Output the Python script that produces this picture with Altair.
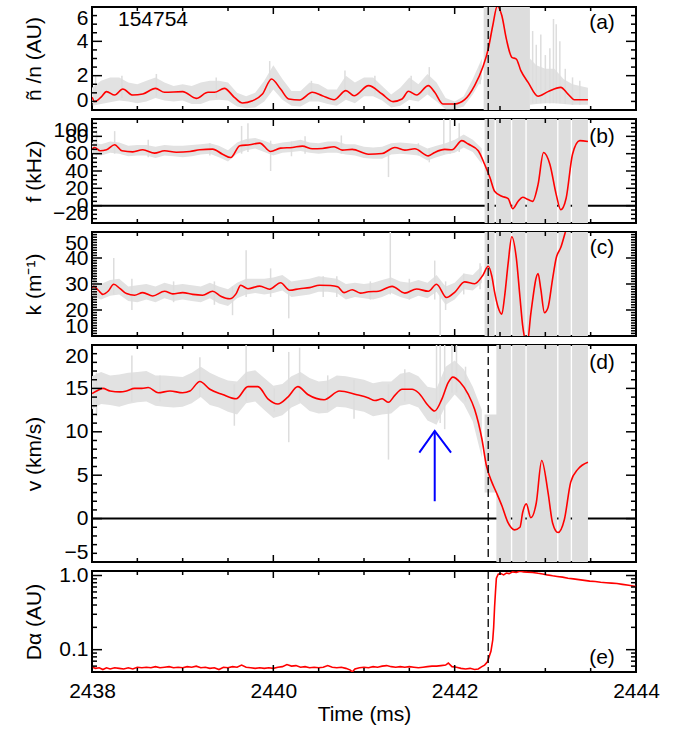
import altair as alt
import pandas as pd

FONT = "Liberation Sans, Arial, Helvetica, sans-serif"
FS = 21
W = 544
GRAY = "#DDDDDD"
BAND_GRAY = "#E2E2E2"
XDOM = [2438, 2444]
X_LABELS = [2438, 2440, 2442, 2444]
X_MAJOR = [2438, 2440, 2442, 2444]
X_MINOR = [2438.5, 2439, 2439.5, 2440.5, 2441, 2441.5, 2442.5, 2443, 2443.5]
T_LH = [2442.37]

# ---------------- panel (a): density fluctuation ----------------
RED_A_T = [2438.00, 2438.03, 2438.10, 2438.16, 2438.25, 2438.34, 2438.45, 2438.56, 2438.70, 2438.80,
           2439.00, 2439.15, 2439.28, 2439.35, 2439.46, 2439.57, 2439.66, 2439.77, 2439.88, 2439.98,
           2440.08, 2440.17, 2440.29, 2440.43, 2440.54, 2440.67, 2440.80, 2440.89, 2441.05, 2441.20,
           2441.32, 2441.42, 2441.49, 2441.58, 2441.71, 2441.78, 2441.87, 2442.00, 2442.11, 2442.22,
           2442.31, 2442.37, 2442.42, 2442.47, 2442.52, 2442.57, 2442.63, 2442.68, 2442.73, 2442.81,
           2442.92, 2443.03, 2443.17, 2443.25, 2443.32, 2443.47]
RED_A_V = [0.75, 0.49, 0.75, 1.07, 0.87, 1.22, 0.87, 0.93, 1.26, 1.03,
           1.07, 0.68, 1.03, 1.03, 1.26, 0.74, 0.41, 0.54, 0.93, 1.81,
           1.22, 0.64, 0.58, 1.03, 0.83, 0.60, 1.13, 0.83, 1.42, 0.93,
           0.49, 0.64, 1.09, 0.87, 1.42, 1.03, 0.35, 0.35, 0.60, 1.42,
           2.49, 3.55, 4.91, 6.05, 5.50, 4.14, 3.07, 2.97, 2.29, 1.61,
           0.80, 1.07, 1.32, 0.93, 0.60, 0.60]

BAND_T = [2438.0, 2438.1, 2438.2, 2438.3, 2438.4, 2438.5, 2438.6, 2438.7, 2438.8, 2438.9,
          2439.0, 2439.1, 2439.2, 2439.3, 2439.4, 2439.5, 2439.6, 2439.7, 2439.8, 2439.9,
          2440.0, 2440.1, 2440.2, 2440.3, 2440.4, 2440.5, 2440.6, 2440.7, 2440.8, 2440.9,
          2441.0, 2441.1, 2441.2, 2441.3, 2441.4, 2441.5, 2441.6, 2441.7, 2441.8, 2441.9,
          2442.0, 2442.1, 2442.2, 2442.3]
BAND_A_LO = [0.25, 0.35, 0.45, 0.55, 0.5, 0.4, 0.5, 0.7, 0.55, 0.5,
             0.55, 0.35, 0.35, 0.55, 0.6, 0.55, 0.2, 0.1, 0.15, 0.5,
             1.2, 0.6, 0.25, 0.2, 0.5, 0.5, 0.35, 0.25, 0.6, 0.4,
             0.8, 0.8, 0.55, 0.15, 0.25, 0.6, 0.5, 0.9, 0.5, 0.05,
             0.05, 0.2, 0.9, 1.8]
BAND_A_HI = [1.3, 1.7, 1.9, 1.9, 1.6, 1.5, 1.7, 1.9, 1.6, 1.4,
             1.5, 1.4, 1.6, 1.7, 1.7, 1.6, 1.0, 0.8, 1.0, 1.7,
             2.6, 1.8, 1.1, 1.1, 1.6, 1.5, 1.2, 1.2, 2.0, 1.6,
             1.9, 1.9, 1.4, 0.9, 1.3, 1.9, 1.5, 2.1, 1.6, 0.7,
             0.5, 0.8, 1.8, 3.0]
POST_A_T = [2442.83, 2442.90, 2443.00, 2443.10, 2443.20, 2443.30, 2443.47]
POST_A_LO = [0.30, 0.35, 0.40, 0.40, 0.35, 0.30, 0.30]
POST_A_HI = [3.0, 2.6, 2.4, 2.4, 1.8, 1.5, 1.3]
SPK_A_T = [2438.04, 2438.33, 2438.71, 2439.37, 2439.96, 2440.42, 2440.79, 2441.12, 2441.52, 2441.72,
           2442.28, 2442.86, 2442.90, 2442.95, 2443.00, 2443.05, 2443.09, 2443.12, 2443.16, 2443.22,
           2443.30, 2443.38]
SPK_A_LO = [0.4, 0.7, 0.8, 0.7, 1.0, 0.6, 0.7, 0.9, 0.7, 0.9,
            1.5, 0.4, 0.4, 0.4, 0.4, 0.4, 0.4, 0.4, 0.4, 0.35,
            0.3, 0.3]
SPK_A_HI = [2.0, 2.0, 2.1, 1.9, 2.85, 1.7, 2.3, 2.0, 2.0, 2.5,
            2.6, 4.6, 3.8, 4.4, 3.2, 3.6, 5.3, 5.0, 4.0, 2.4,
            1.9, 1.7]
CH_A_T = [2442.32, 2442.83]
CH_A_LO = [0.0, 0.0]
CH_A_HI = [6.0, 6.0]

# ---------------- panel (b): frequency ----------------
RED_B_T = [2438.00, 2438.03, 2438.09, 2438.16, 2438.25, 2438.33, 2438.45, 2438.56, 2438.69, 2438.80,
           2438.93, 2439.08, 2439.19, 2439.33, 2439.44, 2439.53, 2439.63, 2439.74, 2439.85, 2439.97,
           2440.08, 2440.21, 2440.32, 2440.43, 2440.54, 2440.67, 2440.76, 2440.87, 2441.05, 2441.20,
           2441.34, 2441.45, 2441.56, 2441.71, 2441.78, 2441.89, 2441.97, 2442.08, 2442.15, 2442.26,
           2442.33, 2442.39, 2442.44, 2442.52, 2442.59, 2442.64, 2442.70, 2442.75, 2442.81, 2442.86,
           2442.92, 2442.98, 2443.05, 2443.12, 2443.17, 2443.23, 2443.30, 2443.38, 2443.47]
RED_B_V = [65.2, 67.2, 63.3, 64.5, 70.3, 63.3, 62.1, 64.5, 60.6, 63.3,
           61.7, 62.5, 64.5, 65.2, 59.4, 55.5, 69.1, 70.3, 72.2, 62.5,
           66.4, 67.2, 68.7, 65.6, 66.0, 68.0, 64.1, 64.9, 59.4, 60.2,
           67.2, 64.1, 65.6, 57.5, 61.4, 64.9, 64.5, 75.0, 71.1, 63.3,
           47.8, 32.2, 16.7, 10.9, 8.2, -3.5, 5.0, 9.7, 7.0, 5.0,
           24.5, 61.4, 47.8, 12.8, -4.7, 8.9, 59.4, 75.0, 74.0]
BAND_B_LO = [60, 58, 61, 60, 57, 58, 58, 55, 58, 57,
             56, 57, 59, 60, 56, 51, 60, 64, 66, 62,
             58, 61, 62, 63, 61, 60, 61, 61, 59, 58,
             55, 54, 54, 59, 60, 59, 58, 52, 56, 59,
             61, 67, 62, 48]
BAND_B_HI = [73, 71, 74, 73, 69, 70, 70, 68, 70, 69,
             69, 70, 71, 72, 69, 64, 73, 77, 78, 75,
             71, 73, 74, 76, 73, 72, 74, 74, 71, 71,
             68, 67, 68, 72, 73, 72, 71, 66, 69, 72,
             76, 82, 76, 66]
SPK_B_T = [2438.05, 2438.25, 2438.62, 2439.30, 2439.65, 2439.72, 2439.97, 2440.20, 2440.35, 2440.75,
           2441.27, 2441.60, 2441.72, 2441.88, 2441.95, 2442.05]
SPK_B_LO = [58, 60, 56, 58, 60, 62, 40, 57, 60, 60, 33, 58, 50, 60, 60, 62]
SPK_B_HI = [87, 86, 76, 72, 92, 95, 75, 74, 80, 81, 66, 72, 66, 100, 100, 95]
CH_T = [2442.33, 2442.44, 2442.455, 2442.62, 2442.635, 2442.78, 2442.795, 2443.13, 2443.145, 2443.28, 2443.295, 2443.47]
CH_B_LO = [-20, 0, -20, 0, -20, 0, -20, 0, -20, 0, -20, -20]
CH_B_HI = [100, 0, 100, 0, 100, 0, 100, 0, 100, 0, 100, 100]

# ---------------- panel (c): wavenumber ----------------
RED_C_T = [2438.00, 2438.02, 2438.07, 2438.12, 2438.18, 2438.24, 2438.31, 2438.38, 2438.47, 2438.56,
           2438.67, 2438.80, 2438.89, 2439.00, 2439.11, 2439.22, 2439.33, 2439.42, 2439.52, 2439.59,
           2439.64, 2439.72, 2439.85, 2439.96, 2440.08, 2440.18, 2440.29, 2440.40, 2440.51, 2440.63,
           2440.71, 2440.78, 2440.87, 2440.96, 2441.05, 2441.16, 2441.31, 2441.45, 2441.58, 2441.71,
           2441.80, 2441.91, 2442.00, 2442.11, 2442.22, 2442.31, 2442.37, 2442.41, 2442.44, 2442.48,
           2442.52, 2442.55, 2442.59, 2442.63, 2442.68, 2442.72, 2442.75, 2442.80, 2442.84, 2442.92,
           2442.95, 2442.99, 2443.03, 2443.08, 2443.12, 2443.17, 2443.23, 2443.28]
RED_C_V = [28.5, 29.1, 27.6, 26.0, 27.3, 29.9, 28.2, 26.3, 25.7, 26.7,
           25.4, 27.2, 26.2, 26.7, 26.0, 25.7, 27.2, 25.3, 24.3, 26.3,
           29.5, 28.2, 29.2, 28.0, 30.5, 27.6, 28.2, 28.6, 29.5, 29.4,
           28.9, 26.7, 27.8, 26.5, 27.0, 27.2, 29.1, 26.5, 28.1, 27.2,
           29.9, 24.8, 26.8, 30.8, 30.1, 33.3, 36.8, 33.0, 27.0, 21.0,
           18.4, 25.0, 38.0, 48.2, 40.0, 25.0, 14.0, 7.0, 18.6, 34.0,
           28.0, 19.0, 21.0, 32.0, 40.0, 44.0, 51.0, 56.0]
BAND_C_LO = [25.5, 24.0, 25.5, 26.0, 23.5, 23.0, 24.0, 23.0, 24.5, 23.5,
             24.0, 23.5, 23.0, 24.5, 22.5, 21.5, 24.5, 26.0, 26.5, 26.0,
             26.5, 27.5, 25.0, 25.5, 26.0, 27.0, 27.0, 26.5, 24.0, 25.0,
             24.5, 24.0, 25.0, 26.5, 25.0, 24.0, 25.5, 24.5, 27.0, 22.0,
             24.0, 28.0, 27.5, 30.5]
BAND_C_HI = [32.0, 30.0, 31.5, 32.0, 29.0, 29.5, 30.0, 29.0, 30.5, 29.5,
             30.0, 29.5, 29.0, 30.5, 29.0, 28.0, 30.5, 32.0, 32.0, 32.0,
             32.5, 33.5, 31.0, 31.5, 32.0, 33.0, 32.5, 32.0, 30.0, 30.5,
             30.0, 30.5, 31.5, 32.5, 31.0, 30.5, 31.5, 30.5, 33.5, 29.0,
             30.5, 34.0, 33.5, 37.0]
SPK_C_T = [2438.03, 2438.24, 2438.44, 2438.90, 2439.35, 2439.55, 2439.70, 2439.97, 2440.17, 2440.55,
           2440.70, 2441.07, 2441.29, 2441.50, 2441.78, 2441.84, 2441.90, 2442.10, 2442.28]
SPK_C_LO = [26, 26, 20, 23, 22, 18, 25, 25, 16.8, 25, 25, 24, 26, 24, 24, 10, 20, 26, 28]
SPK_C_HI = [39, 40, 32, 31, 31, 29, 43, 36, 31, 33, 33, 31, 50, 32, 39, 31, 31, 34, 38]
CH_C_LO = [10, 10, 10, 10, 10, 10, 10, 10, 10, 10, 10, 10]
CH_C_HI = [50, 10, 50, 10, 50, 10, 50, 10, 50, 10, 50, 50]

# ---------------- panel (d): velocity ----------------
RED_D_T = [2438.00, 2438.05, 2438.12, 2438.20, 2438.31, 2438.38, 2438.47, 2438.55, 2438.62, 2438.73,
           2438.86, 2439.00, 2439.08, 2439.19, 2439.30, 2439.44, 2439.59, 2439.72, 2439.83, 2439.94,
           2440.05, 2440.16, 2440.27, 2440.38, 2440.56, 2440.73, 2440.91, 2441.05, 2441.12, 2441.20,
           2441.27, 2441.34, 2441.42, 2441.53, 2441.60, 2441.71, 2441.78, 2441.86, 2441.93, 2441.98,
           2442.06, 2442.15, 2442.22, 2442.30, 2442.35, 2442.41, 2442.46, 2442.52, 2442.59, 2442.66,
           2442.72, 2442.75, 2442.79, 2442.84, 2442.90, 2442.96, 2443.03, 2443.08, 2443.14, 2443.21,
           2443.28, 2443.36, 2443.47]
RED_D_V = [14.4, 14.7, 15.0, 14.7, 14.6, 14.7, 15.0, 15.0, 15.1, 14.5,
           14.7, 14.5, 14.7, 15.8, 14.9, 14.3, 13.8, 15.2, 15.2, 13.8,
           13.2, 14.0, 15.2, 14.3, 13.7, 14.7, 14.3, 13.9, 13.6, 13.8,
           13.4, 14.2, 14.9, 14.9, 14.5, 13.0, 12.4, 13.8, 15.7, 16.3,
           15.7, 14.3, 12.6, 9.2, 6.1, 4.2, 3.0, 1.5, -0.5, -1.3,
           -1.0, 0.7, 1.7, 0.1, 1.8, 6.7, 3.0, -0.5, -1.6, -0.1,
           4.2, 5.7, 6.5]
BAND_D_LO = [12.6, 13.2, 13.1, 12.9, 13.2, 13.4, 13.5, 13.0, 12.9, 12.8,
             12.9, 13.3, 14.0, 13.1, 12.8, 12.3, 12.0, 13.3, 13.5, 12.5,
             11.6, 11.9, 12.8, 13.3, 12.4, 12.1, 12.2, 12.9, 12.8, 12.5,
             12.3, 11.8, 12.0, 12.1, 13.0, 13.2, 12.8, 11.3, 10.8, 13.0,
             14.3, 13.2, 11.2, 7.0]
BAND_D_HI = [16.4, 16.9, 16.5, 16.6, 16.8, 16.9, 17.0, 16.5, 16.5, 16.4,
             16.3, 16.8, 17.5, 16.8, 16.3, 15.9, 15.8, 16.9, 17.1, 16.2,
             15.3, 15.5, 16.4, 16.9, 16.2, 15.8, 15.9, 16.5, 16.4, 16.2,
             16.0, 15.6, 15.8, 15.8, 16.7, 16.9, 16.4, 15.2, 15.0, 17.5,
             18.2, 17.2, 15.2, 12.5]
SPK_D_T = [2438.05, 2438.44, 2438.75, 2439.19, 2439.57, 2439.70, 2440.01, 2440.17, 2440.29, 2440.60,
           2440.89, 2441.27, 2441.45, 2441.80, 2441.84, 2441.89, 2441.97, 2442.02, 2442.12]
SPK_D_LO = [11.8, 13.5, 13.5, 14.0, 10.7, 13.5, 12.3, 8.8, 13.5, 12.5,
            11.5, 6.8, 13.5, 11.5, 11.0, 10.3, 14.5, 14.5, 13.5]
SPK_D_HI = [16.8, 18.8, 16.5, 18.6, 15.5, 20.0, 15.0, 19.2, 19.7, 16.5,
            16.0, 15.5, 17.2, 20.0, 20.0, 20.0, 20.0, 20.0, 17.5]
CH_D_T = [2442.33, 2442.46, 2442.62, 2442.635, 2442.78, 2442.795, 2443.13, 2443.145, 2443.28, 2443.295, 2443.47]
CH_D_LO = [3.0, -5, 0, -5, 0, -5, 0, -5, 0, -5, -5]
CH_D_HI = [12.0, 20, 0, 20, 0, 20, 0, 20, 0, 20, 20]
ARROW_SEG = [0, 0, 1, 1, 1]
ARROW_I = [0, 1, 0, 1, 2]
ARROW_T = [2441.78, 2441.78, 2441.61, 2441.78, 2441.96]
ARROW_V = [2.0, 10.1, 7.6, 10.1, 7.6]

# ---------------- panel (e): D-alpha ----------------
DA_T = [2438.00, 2438.04, 2438.08, 2438.12, 2438.16, 2438.20, 2438.25, 2438.30, 2438.35, 2438.40,
        2438.45, 2438.50, 2438.55, 2438.60, 2438.65, 2438.70, 2438.75, 2438.80, 2438.85, 2438.90,
        2438.95, 2439.00, 2439.05, 2439.10, 2439.15, 2439.20, 2439.25, 2439.30, 2439.35, 2439.40,
        2439.45, 2439.50, 2439.55, 2439.60, 2439.65, 2439.70, 2439.75, 2439.80, 2439.85, 2439.90,
        2439.95, 2440.00, 2440.05, 2440.10, 2440.15, 2440.20, 2440.25, 2440.30, 2440.35, 2440.40,
        2440.45, 2440.50, 2440.55, 2440.60, 2440.65, 2440.70, 2440.75, 2440.80, 2440.85, 2440.87,
        2440.90, 2440.95, 2441.00, 2441.05, 2441.10, 2441.15, 2441.20, 2441.25, 2441.30, 2441.35,
        2441.40, 2441.45, 2441.50, 2441.55, 2441.60, 2441.65, 2441.70, 2441.75, 2441.80, 2441.85,
        2441.90, 2441.93, 2441.97, 2442.02, 2442.07, 2442.12, 2442.17, 2442.22, 2442.26, 2442.30,
        2442.33, 2442.36, 2442.38, 2442.40, 2442.42, 2442.43, 2442.44, 2442.45, 2442.46, 2442.48,
        2442.51, 2442.54, 2442.57, 2442.60, 2442.64, 2442.68, 2442.72, 2442.76, 2442.80, 2442.86,
        2442.92, 2442.97, 2443.02, 2443.08, 2443.13, 2443.19, 2443.25, 2443.31, 2443.37, 2443.43,
        2443.49, 2443.55, 2443.61, 2443.67, 2443.73, 2443.79, 2443.85, 2443.92, 2444.00]
DA_V = [0.058, 0.056, 0.057, 0.054, 0.057, 0.055, 0.057, 0.056, 0.055, 0.057,
        0.055, 0.058, 0.057, 0.058, 0.057, 0.059, 0.057, 0.058, 0.059, 0.057,
        0.058, 0.057, 0.059, 0.058, 0.060, 0.057, 0.058, 0.056, 0.057, 0.054,
        0.058, 0.057, 0.059, 0.058, 0.062, 0.058, 0.057, 0.056, 0.057, 0.056,
        0.057, 0.056, 0.058, 0.059, 0.063, 0.060, 0.061, 0.058, 0.059, 0.057,
        0.058, 0.057, 0.058, 0.061, 0.058, 0.057, 0.058, 0.056, 0.053, 0.050,
        0.055, 0.057, 0.058, 0.057, 0.059, 0.058, 0.060, 0.061, 0.059, 0.058,
        0.059, 0.058, 0.059, 0.058, 0.057, 0.058, 0.059, 0.060, 0.060, 0.061,
        0.062, 0.066, 0.059, 0.058, 0.056, 0.055, 0.056, 0.054, 0.055, 0.059,
        0.062, 0.068, 0.080, 0.095, 0.135, 0.20, 0.37, 0.60, 0.92, 1.04,
        1.06, 1.02, 1.08, 1.06, 1.12, 1.10, 1.14, 1.12, 1.11, 1.10,
        1.07, 1.05, 1.02, 0.99, 0.97, 0.95, 0.92, 0.90, 0.88, 0.86,
        0.84, 0.83, 0.81, 0.80, 0.79, 0.78, 0.76, 0.74, 0.71]

# ---------------- axis ticks ----------------
A_MAJOR = [0, 2, 4, 6]
A_MINOR = [0.5, 1, 1.5, 2.5, 3, 3.5, 4.5, 5, 5.5]
B_MAJOR = [-20, 0, 20, 40, 60, 80, 100]
B_MINOR = [-15, -10, -5, 5, 10, 15, 25, 30, 35, 45, 50, 55, 65, 70, 75, 85, 90, 95]
C_MAJOR = [10, 20, 30, 40, 50]
C_MINOR = [11, 12, 13, 14, 15, 16, 17, 18, 19, 21, 22, 23, 24, 25, 26, 27, 28, 29,
           31, 32, 33, 34, 35, 36, 37, 38, 39, 41, 42, 43, 44, 45, 46, 47, 48, 49]
D_MAJOR = [-5, 0, 5, 10, 15, 20]
D_MINOR = [-4, -3, -2, -1, 1, 2, 3, 4, 6, 7, 8, 9, 11, 12, 13, 14, 16, 17, 18, 19]
E_MAJOR = [0.1, 1.0]
E_MINOR = [0.06, 0.07, 0.08, 0.09, 0.2, 0.3, 0.4, 0.5, 0.6, 0.7, 0.8, 0.9]


def panel(h, ydom, title, major, minor, red_t, red_v, tags,
          bands=(), spk=None, chaos=None, zero=False, ytype="linear",
          flush=True, fmt=None, xaxis=None, red_interp="monotone", extra=None):
    xscale = alt.Scale(domain=XDOM, nice=False, zero=False)
    yscale = alt.Scale(domain=ydom, nice=False, zero=False, type=ytype)
    axkw = dict(values=major, title=title, ticks=False, tickSize=0, domain=False, grid=False,
                labelFlush=flush, labelOverlap=False, labelPadding=4, titleX=-58,
                titleBaseline="middle", titleFontWeight="normal")
    if fmt:
        axkw["format"] = fmt
    yaxis = alt.Axis(**axkw)

    def X(f):
        return alt.X(f + ":Q", scale=xscale, axis=xaxis)

    def Y(f):
        return alt.Y(f + ":Q", scale=yscale, axis=yaxis)

    layers = []
    if zero:
        layers.append(alt.Chart(pd.DataFrame({"v": [0]})).mark_rule(color="black", strokeWidth=2)
                      .encode(y=Y("v")))
    for bt, blo, bhi in bands:
        df = pd.DataFrame({"t": bt, "lo": blo, "hi": bhi})
        layers.append(alt.Chart(df).mark_area(color=BAND_GRAY, clip=True)
                      .encode(x=X("t"), y=Y("lo"), y2="hi"))
    if spk is not None:
        df = pd.DataFrame({"t": spk[0], "lo": spk[1], "hi": spk[2]})
        layers.append(alt.Chart(df).mark_rule(color=GRAY, strokeWidth=1.5, clip=True)
                      .encode(x=X("t"), y=Y("lo"), y2="hi"))
    if chaos is not None:
        df = pd.DataFrame({"t": chaos[0], "lo": chaos[1], "hi": chaos[2]})
        layers.append(alt.Chart(df).mark_area(color=GRAY, interpolate="step-after", clip=True)
                      .encode(x=X("t"), y=Y("lo"), y2="hi"))
    df = pd.DataFrame({"t": red_t, "v": red_v})
    layers.append(alt.Chart(df).mark_line(color="#FF0000", strokeWidth=1.6, interpolate=red_interp, clip=True)
                  .encode(x=X("t"), y=Y("v")))
    layers.append(alt.Chart(pd.DataFrame({"t": T_LH})).mark_rule(color="black", strokeWidth=1.3, strokeDash=[8, 4])
                  .encode(x=X("t")))
    if extra is not None:
        layers.append(extra(X, Y))
    # inward ticks on all four sides
    for vals, L in ((X_MAJOR, 7), (X_MINOR, 4)):
        d = pd.DataFrame({"t": vals})
        layers.append(alt.Chart(d).mark_rule(color="black", strokeWidth=1.5)
                      .encode(x=X("t"), y=alt.value(0), y2=alt.value(L)))
        layers.append(alt.Chart(d).mark_rule(color="black", strokeWidth=1.5)
                      .encode(x=X("t"), y=alt.value(h), y2=alt.value(h - L)))
    for vals, L in ((major, 10), (minor, 5)):
        d = pd.DataFrame({"v": vals})
        layers.append(alt.Chart(d).mark_rule(color="black", strokeWidth=1.5)
                      .encode(y=Y("v"), x=alt.value(0), x2=alt.value(L)))
        layers.append(alt.Chart(d).mark_rule(color="black", strokeWidth=1.5)
                      .encode(y=Y("v"), x=alt.value(W), x2=alt.value(W - L)))
    for s, x, y in tags:
        layers.append(alt.Chart(pd.DataFrame({"s": [s]})).mark_text(
            font=FONT, fontSize=FS, color="black", align="center", baseline="middle")
            .encode(text="s:N", x=alt.value(x), y=alt.value(y)))
    return alt.layer(*layers).properties(width=W, height=h)


def arrow(X, Y):
    df = pd.DataFrame({"seg": ARROW_SEG, "i": ARROW_I, "t": ARROW_T, "v": ARROW_V})
    return alt.Chart(df).mark_line(color="#0000FF", strokeWidth=2).encode(
        x=X("t"), y=Y("v"), detail="seg:N", order="i:Q")


pa = panel(103, [0, 6], "ñ /n (AU)", A_MAJOR, A_MINOR, RED_A_T, RED_A_V,
           [("154754", 61, 13), ("(a)", 510, 16)],
           bands=[(BAND_T, BAND_A_LO, BAND_A_HI), (POST_A_T, POST_A_LO, POST_A_HI)],
           spk=(SPK_A_T, SPK_A_LO, SPK_A_HI), chaos=(CH_A_T, CH_A_LO, CH_A_HI))
pb = panel(104, [-20, 100], "f (kHz)", B_MAJOR, B_MINOR, RED_B_T, RED_B_V,
           [("(b)", 510, 18)], bands=[(BAND_T, BAND_B_LO, BAND_B_HI)],
           spk=(SPK_B_T, SPK_B_LO, SPK_B_HI), chaos=(CH_T, CH_B_LO, CH_B_HI), zero=True)
pc = panel(104, [10, 50], "k (m⁻¹)", C_MAJOR, C_MINOR, RED_C_T, RED_C_V,
           [("(c)", 510, 16)], bands=[(BAND_T, BAND_C_LO, BAND_C_HI)],
           spk=(SPK_C_T, SPK_C_LO, SPK_C_HI), chaos=(CH_T, CH_C_LO, CH_C_HI))
pd_ = panel(217, [-5, 20], "v (km/s)", D_MAJOR, D_MINOR, RED_D_T, RED_D_V,
            [("(d)", 510, 18)], bands=[(BAND_T, BAND_D_LO, BAND_D_HI)],
            spk=(SPK_D_T, SPK_D_LO, SPK_D_HI), chaos=(CH_D_T, CH_D_LO, CH_D_HI),
            zero=True, extra=arrow)
xaxis_e = alt.Axis(values=X_LABELS, format="d", title="Time (ms)", ticks=False, tickSize=0,
                   domain=False, grid=False, labelPadding=8, titlePadding=2,
                   labelFlush=False, labelOverlap=False, titleFontWeight="normal")
pe = panel(101, [0.05, 1.15], "Dα (AU)", E_MAJOR, E_MINOR, DA_T, DA_V,
           [("(e)", 510, 87)], ytype="log", flush=False, fmt=".1f",
           xaxis=xaxis_e, red_interp="linear")

chart = alt.vconcat(pa, pb, pc, pd_, pe, spacing=9, bounds="flush").properties(
    padding={"left": 22, "top": 5, "right": 5, "bottom": 5}
).configure_view(stroke="black", strokeWidth=2).configure_axis(
    labelFont=FONT, titleFont=FONT, labelFontSize=FS, titleFontSize=FS,
    labelColor="black", titleColor="black"
).configure_text(font=FONT)

chart.save("out.html", embed_options={"renderer": "svg", "actions": False})
